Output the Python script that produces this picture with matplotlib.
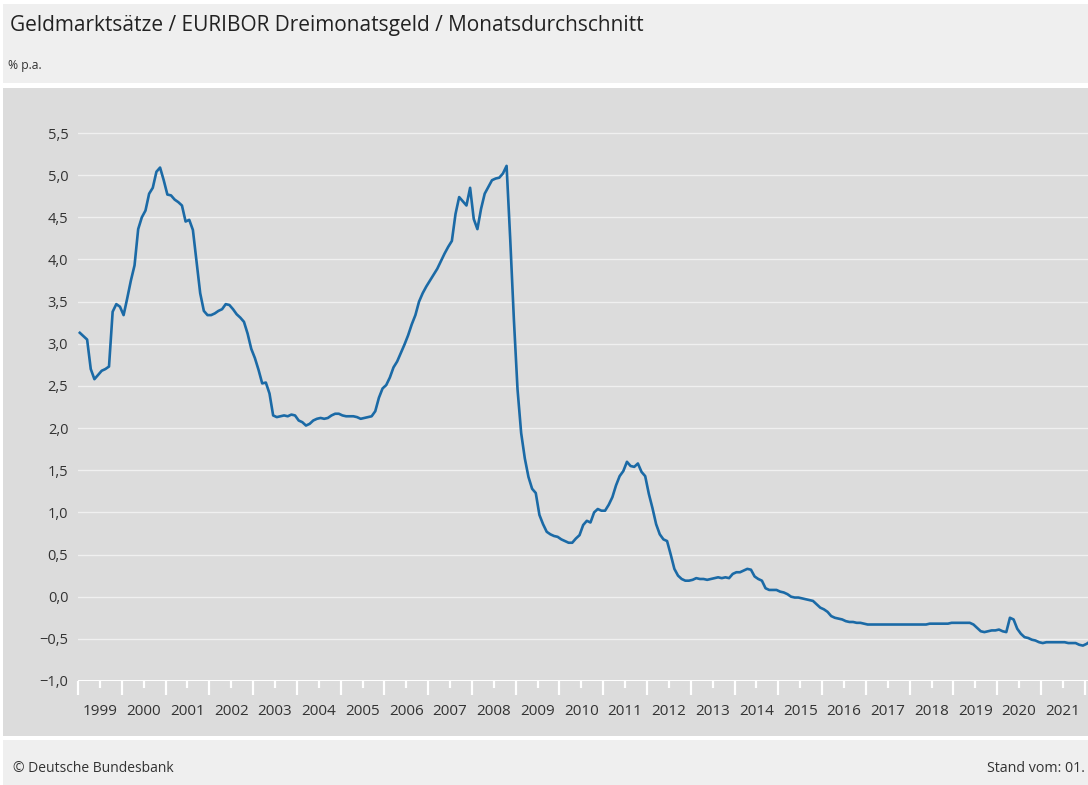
import matplotlib.pyplot as plt
from matplotlib.patches import Rectangle

# Daten: EURIBOR Dreimonatsgeld, Monatsdurchschnitt in % p.a. (Jan 1999 bis Feb 2022)
start_jahr = 1999
euribor = [
    3.13, 3.09, 3.05, 2.70, 2.58, 2.63, 2.68, 2.70, 2.73, 3.38, 3.47, 3.44,   # 1999
    3.34, 3.54, 3.75, 3.93, 4.36, 4.50, 4.58, 4.78, 4.85, 5.04, 5.09, 4.94,   # 2000
    4.77, 4.76, 4.71, 4.68, 4.64, 4.45, 4.47, 4.35, 3.98, 3.60, 3.39, 3.34,   # 2001
    3.34, 3.36, 3.39, 3.41, 3.47, 3.46, 3.41, 3.35, 3.31, 3.26, 3.12, 2.94,   # 2002
    2.83, 2.69, 2.53, 2.54, 2.41, 2.15, 2.13, 2.14, 2.15, 2.14, 2.16, 2.15,   # 2003
    2.09, 2.07, 2.03, 2.05, 2.09, 2.11, 2.12, 2.11, 2.12, 2.15, 2.17, 2.17,   # 2004
    2.15, 2.14, 2.14, 2.14, 2.13, 2.11, 2.12, 2.13, 2.14, 2.20, 2.36, 2.47,   # 2005
    2.51, 2.60, 2.72, 2.79, 2.89, 2.99, 3.10, 3.23, 3.34, 3.50, 3.60, 3.68,   # 2006
    3.75, 3.82, 3.89, 3.98, 4.07, 4.15, 4.22, 4.54, 4.74, 4.69, 4.64, 4.85,   # 2007
    4.48, 4.36, 4.60, 4.78, 4.86, 4.94, 4.96, 4.97, 5.02, 5.11, 4.24, 3.29,   # 2008
    2.46, 1.94, 1.64, 1.42, 1.28, 1.23, 0.97, 0.86, 0.77, 0.74, 0.72, 0.71,   # 2009
    0.68, 0.66, 0.64, 0.64, 0.69, 0.73, 0.85, 0.90, 0.88, 1.00, 1.04, 1.02,   # 2010
    1.02, 1.09, 1.18, 1.32, 1.43, 1.49, 1.60, 1.55, 1.54, 1.58, 1.48, 1.43,   # 2011
    1.22, 1.05, 0.86, 0.74, 0.68, 0.66, 0.50, 0.33, 0.25, 0.21, 0.19, 0.19,   # 2012
    0.20, 0.22, 0.21, 0.21, 0.20, 0.21, 0.22, 0.23, 0.22, 0.23, 0.22, 0.27,   # 2013
    0.29, 0.29, 0.31, 0.33, 0.32, 0.24, 0.21, 0.19, 0.10, 0.08, 0.08, 0.08,   # 2014
    0.06, 0.05, 0.03, 0.00, -0.01, -0.01, -0.02, -0.03, -0.04, -0.05, -0.09, -0.13,   # 2015
    -0.15, -0.18, -0.23, -0.25, -0.26, -0.27, -0.29, -0.30, -0.30, -0.31, -0.31, -0.32,   # 2016
    -0.33, -0.33, -0.33, -0.33, -0.33, -0.33, -0.33, -0.33, -0.33, -0.33, -0.33, -0.33,   # 2017
    -0.33, -0.33, -0.33, -0.33, -0.33, -0.32, -0.32, -0.32, -0.32, -0.32, -0.32, -0.31,   # 2018
    -0.31, -0.31, -0.31, -0.31, -0.31, -0.33, -0.37, -0.41, -0.42, -0.41, -0.40, -0.40,   # 2019
    -0.39, -0.41, -0.42, -0.25, -0.27, -0.38, -0.44, -0.48, -0.49, -0.51, -0.52, -0.54,   # 2020
    -0.55, -0.54, -0.54, -0.54, -0.54, -0.54, -0.54, -0.55, -0.55, -0.55, -0.57, -0.58,   # 2021
    -0.56, -0.53,   # 2022
]
jahre = list(range(1999, 2022))
y_ticks = [-1.0, -0.5, 0.0, 0.5, 1.0, 1.5, 2.0, 2.5, 3.0, 3.5, 4.0, 4.5, 5.0, 5.5]

titel = "Geldmarktsätze / EURIBOR Dreimonatsgeld / Monatsdurchschnitt"
einheit = "% p.a."
quelle = "© Deutsche Bundesbank"
stand = "Stand vom: 01."

W, H = 1088, 785
schrift = "Open Sans"
textfarbe = "#333333"
linienfarbe = "#1b6aa6"

# Zeitachse: Monatsmitte
zeit = [start_jahr + (i + 0.5) / 12 for i in range(len(euribor))]

fig = plt.figure(figsize=(W / 100, H / 100), dpi=100)
fig.patch.set_facecolor("white")


def rect(x0, y0, x1, y1, farbe):
    # Rechteck in Pixelkoordinaten (y von oben)
    fig.patches.append(Rectangle((x0 / W, 1 - y1 / H), (x1 - x0) / W, (y1 - y0) / H,
                                 transform=fig.transFigure, facecolor=farbe,
                                 edgecolor="none", zorder=-5))


rect(3, 4, W, 83, "#efefef")    # Kopfbereich
rect(3, 88, W, 736, "#dcdcdc")  # Diagrammbereich
rect(3, 740, W, H, "#efefef")   # Fussbereich

fig.text(10 / W, 1 - 25 / H, titel, fontsize=15, color="#222222",
         family=schrift, va="center", ha="left")
fig.text(8 / W, 1 - 66 / H, einheit, fontsize=8.7, color=textfarbe,
         family=schrift, va="center", ha="left")
fig.text(13 / W, 1 - 769 / H, quelle, fontsize=10, color=textfarbe,
         family=schrift, va="center", ha="left")
fig.text(987 / W, 1 - 769 / H, stand, fontsize=10.3, color=textfarbe,
         family=schrift, va="center", ha="left")

# Achsen
links, rechts = 78, W
unten, oben = 681, 120
px_pro_einheit = (681 - 133) / 6.5
ax = fig.add_axes([links / W, 1 - unten / H, (rechts - links) / W, (unten - oben) / H])
ax.set_facecolor("none")
ax.set_xlim(1999, 1999 + (rechts - links) / 43.77)
ax.set_ylim(-1.0, 5.5 + (133 - oben) / px_pro_einheit)

for s in ax.spines.values():
    s.set_visible(False)

ax.set_yticks(y_ticks)
ax.set_yticklabels([f"{v:.1f}".replace(".", ",").replace("-", "\u2212") for v in y_ticks],
                   fontsize=10.5, color=textfarbe, family=schrift)
ax.tick_params(axis="y", length=0, pad=7)
ax.yaxis.grid(True, color="#f0f0f0", lw=1.0)
ax.axhline(-1.0, color="white", lw=1.4, zorder=1)
ax.set_axisbelow(True)

ax.set_xticks(jahre + [2022])
ax.set_xticklabels([])
ax.set_xticks([j + 0.5 for j in jahre], minor=True)
ax.set_xticklabels([str(j) for j in jahre], minor=True, fontsize=11,
                   color=textfarbe, family=schrift)
ax.tick_params(axis="x", which="major", length=10, width=1.6, color="white")
ax.tick_params(axis="x", which="minor", length=5, width=1.6, color="white", pad=11.5)

ax.plot(zeit, euribor, color=linienfarbe, lw=1.9, solid_joinstyle="round",
        clip_on=False, zorder=3)

fig.savefig("out.png", dpi=100)
